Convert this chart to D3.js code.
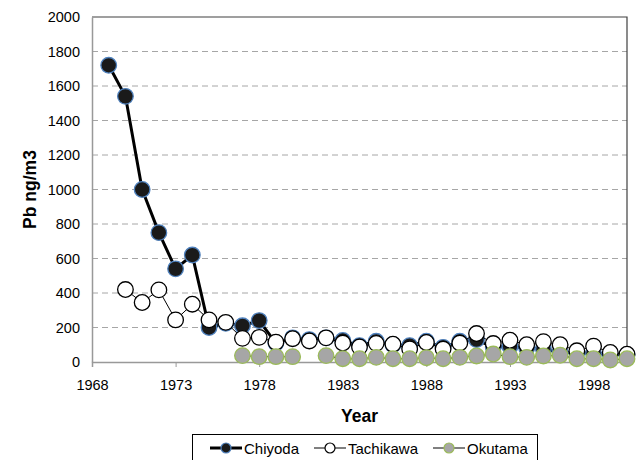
<!DOCTYPE html>
<html>
<head>
<meta charset="utf-8">
<script src="https://cdnjs.cloudflare.com/ajax/libs/d3/7.8.5/d3.min.js"></script>
<style>
  html, body { margin: 0; padding: 0; background: #fff; }
  svg { display: block; font-family: "Liberation Sans", Arial, sans-serif; }
</style>
</head>
<body>
<svg id="chart" width="640" height="460"></svg>
<script>
// Annual mean airborne lead (Pb, ng/m3) at three Tokyo stations
const years = d3.range(1969, 2001);

const chiyoda = [1720, 1540, 1000, 750, 540, 620, 200, 225, 210, 240,
                 110, 140, 130, 140, 125, 95, 120, 100, 95, 120,
                 85, 120, 130, 85, 90, 80, 75, 55, 55, 50, 45, 40];

const tachikawa = [null, 420, 345, 418, 244, 335, 244, 230, 137, 143,
                   115, 135, 122, 140, 110, 87, 108, 103, 76, 113,
                   75, 110, 165, 107, 126, 100, 118, 100, 65, 92, 55, 45];

const okutama = [null, null, null, null, null, null, null, null, 37, 31,
                 31, 31, null, 37, 19, 19, 27, 19, 19, 25,
                 19, 27, 35, 46, 31, 27, 35, 39, 19, 19, 12, 19];

const xTickYears = [1968, 1973, 1978, 1983, 1988, 1993, 1998];
const yTicks = [0, 200, 400, 600, 800, 1000, 1200, 1400, 1600, 1800, 2000];

const seriesNames = ["Chiyoda", "Tachikawa", "Okutama"];

const svg = d3.select("#chart");
const margin = { left: 92, right: 13, top: 17, bottom: 98 };
const W = 640, H = 460;
const plotW = W - margin.left - margin.right;
const plotH = H - margin.top - margin.bottom;

const x = d3.scaleLinear().domain([1968, 2000]).range([margin.left, margin.left + plotW]);
const y = d3.scaleLinear().domain([0, 2000]).range([margin.top + plotH, margin.top]);

// gridlines
svg.append("g")
  .selectAll("line")
  .data(yTicks.filter(d => d > 0 && d < 2000))
  .join("line")
  .attr("x1", margin.left).attr("x2", margin.left + plotW)
  .attr("y1", d => y(d)).attr("y2", d => y(d))
  .attr("stroke", "#a6a6a6").attr("stroke-width", 1)
  .attr("stroke-dasharray", "6,4");

// frame: top and right
svg.append("path")
  .attr("d", `M${margin.left},${y(2000)}H${margin.left + plotW}V${y(0)}`)
  .attr("fill", "none").attr("stroke", "#404040").attr("stroke-width", 1.2);

// y axis
const yAxis = svg.append("g")
  .attr("transform", `translate(${margin.left},0)`)
  .call(d3.axisLeft(y).tickValues(yTicks).tickFormat(d3.format("d")).tickSize(0).tickPadding(12));
yAxis.select(".domain").attr("stroke", "#999").attr("stroke-width", 1.5);
yAxis.selectAll("text").attr("font-size", 14.5).attr("fill", "#000")
  .attr("font-family", "Liberation Sans, Arial, sans-serif");

// x axis
const xAxis = svg.append("g")
  .attr("transform", `translate(0,${y(0)})`)
  .call(d3.axisBottom(x).tickValues(xTickYears).tickFormat(d3.format("d")).tickSize(5).tickPadding(13));
xAxis.select(".domain").attr("stroke", "#999").attr("stroke-width", 1.5);
xAxis.selectAll(".tick line").attr("stroke", "#999");
xAxis.selectAll("text").attr("font-size", 14.5).attr("fill", "#000")
  .attr("font-family", "Liberation Sans, Arial, sans-serif");

// axis titles
svg.append("text")
  .attr("x", x(1984)).attr("y", 422)
  .attr("text-anchor", "middle").attr("font-size", 17.5).attr("font-weight", "bold")
  .text("Year");
svg.append("text")
  .attr("transform", `translate(36,${y(1000)}) rotate(-90)`)
  .attr("text-anchor", "middle").attr("font-size", 17.5).attr("font-weight", "bold")
  .text("Pb ng/m3");

const styles = [
  { data: chiyoda, lineW: 3, lineC: "#000", fill: "#1a1a1a", stroke: "#4f81bd" },
  { data: tachikawa, lineW: 1, lineC: "#000", fill: "#fff", stroke: "#000" },
  { data: okutama, lineW: 1, lineC: "#000", fill: "#a6a6a6", stroke: "#9bbb59" }
];

const line = d3.line()
  .defined(d => d.v != null)
  .x(d => x(d.year)).y(d => y(d.v));

styles.forEach(s => {
  const pts = years.map((yr, i) => ({ year: yr, v: s.data[i] }));
  const g = svg.append("g");
  g.append("path").datum(pts).attr("d", line)
    .attr("fill", "none").attr("stroke", s.lineC).attr("stroke-width", s.lineW)
    .attr("stroke-linejoin", "round");
  g.selectAll("circle").data(pts.filter(d => d.v != null)).join("circle")
    .attr("cx", d => x(d.year)).attr("cy", d => y(d.v)).attr("r", 7.8)
    .attr("fill", s.fill).attr("stroke", s.stroke).attr("stroke-width", 1.3);
});

// legend
const legend = svg.append("g");
legend.append("rect")
  .attr("x", 192.5).attr("y", 434.5).attr("width", 345).attr("height", 30)
  .attr("fill", "#fff").attr("stroke", "#000").attr("stroke-width", 1);
const legX = [210, 314, 433];
seriesNames.forEach((name, i) => {
  const s = styles[i];
  const lx = legX[i];
  const ly = 448;
  legend.append("line").attr("x1", lx).attr("x2", lx + 32).attr("y1", ly).attr("y2", ly)
    .attr("stroke", s.lineC).attr("stroke-width", s.lineW);
  legend.append("circle").attr("cx", lx + 16).attr("cy", ly).attr("r", 5)
    .attr("fill", s.fill).attr("stroke", s.stroke).attr("stroke-width", 1.2);
  legend.append("text").attr("x", lx + 34).attr("y", ly + 5.5)
    .attr("font-size", 15).text(name);
});
</script>
</body>
</html>
